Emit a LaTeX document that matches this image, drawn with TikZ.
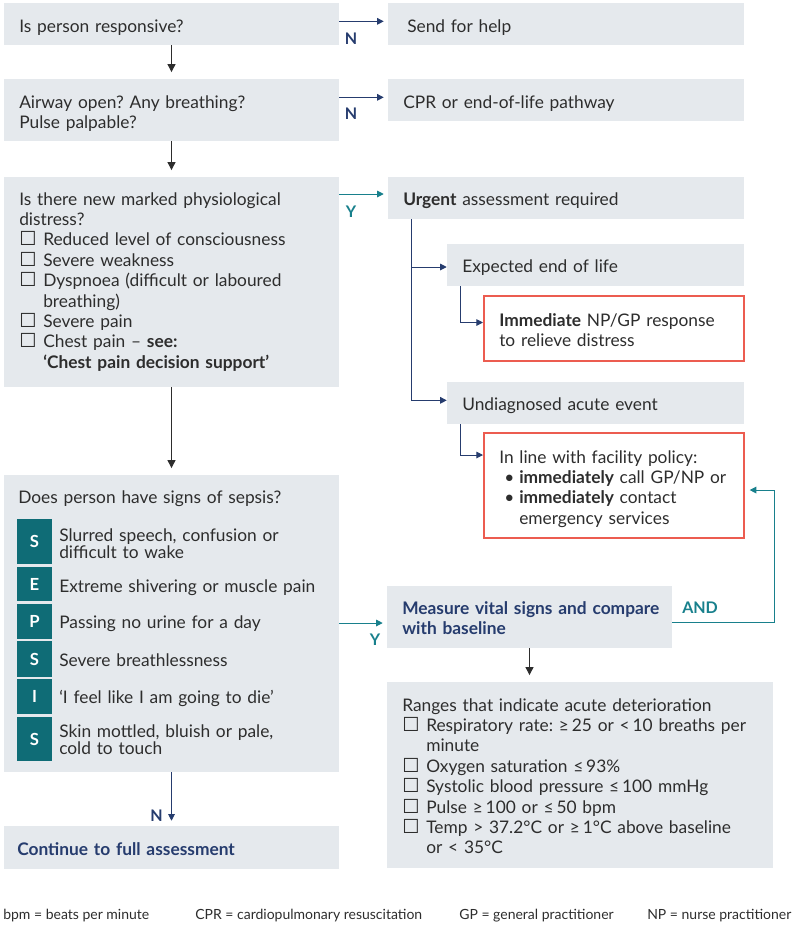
\documentclass[tikz,border=0pt]{standalone}
\usepackage{fontspec}
\setmainfont{Lato}
\newfontfamily\symbfont{DejaVu Sans}
\usetikzlibrary{arrows.meta,fit,positioning}
\frenchspacing

\definecolor{boxgrey}{RGB}{229,233,237}
\definecolor{ink}{RGB}{45,45,45}
\definecolor{navy}{RGB}{38,60,110}
\definecolor{tealline}{RGB}{24,128,140}
\definecolor{tealbox}{RGB}{15,108,118}
\definecolor{boxred}{RGB}{236,92,80}

% check box item and bullet item with hanging indent
\newcommand{\chk}[1]{\hangindent=18pt\hangafter=1\noindent\makebox[18pt][l]{\smash{\symbfont\fontsize{14.5}{14.5}\selectfont ☐}}#1\par}
\newcommand{\bul}[1]{\hangindent=15pt\hangafter=1\noindent\hspace*{3.75pt}\makebox[11.25pt][l]{\textbullet}#1\par}

\tikzset{
  greybox/.style={fill=boxgrey, inner sep=0pt},
  redbox/.style={draw=boxred, line width=1.5pt, fill=white, inner sep=0pt},
  letbox/.style={fill=tealbox, inner sep=0pt},
  letter/.style={inner sep=0pt, text=white, font=\bfseries\fontsize{12.5}{14}\selectfont},
  txt/.style={anchor=base west, inner sep=0pt, text width=330pt, align=left, text=ink,
    font=\fontsize{13}{15.3}\selectfont},
  sepsistxt/.style={txt, font=\fontsize{13}{13.3}\selectfont},
  foot/.style={anchor=base west, inner sep=0pt, text=ink, font=\fontsize{10.5}{12}\selectfont},
  lbl/.style={inner sep=0pt, font=\bfseries\fontsize{12}{14}\selectfont},
  downarr/.style={-{Triangle[length=6pt,width=6pt]}, line width=0.8pt, ink},
  navyarr/.style={-{Triangle[length=5pt,width=5pt]}, line width=0.75pt, navy},
  tealarr/.style={-{Triangle[length=5pt,width=5pt]}, line width=0.75pt, tealline}
}

\begin{document}
\begin{tikzpicture}[x=0.75pt,y=-0.75pt]
\useasboundingbox (0,0) rectangle (800,929);

% left column
\node[greybox, fit={(4,3) (339,45)}] (resp) {};
\node[txt] (resptxt) at (19,32) {Is person responsive?};
\node[greybox, fit={(4,79) (339,141)}] (airway) {};
\node[txt] (airwaytxt) at (19,108) {Airway open? Any breathing?\\Pulse palpable?};
\node[greybox, fit={(4,177) (339,387)}] (distress) {};
\node[txt] (distresstxt) at (19,205) {Is there new marked physiological\\distress?\par
  \chk{Reduced level of consciousness}
  \chk{Severe weakness}
  \chk{Dyspnoea (difficult or laboured\newline breathing)}
  \chk{Severe pain}
  \chk{Chest pain -- \textbf{see:}\newline\textbf{‘Chest pain decision support’}}};
\node[greybox, fit={(4,475) (339,772)}] (sepsis) {};
\node[txt] (sepsistitle) at (18,503) {Does person have signs of sepsis?};
\node[greybox, fit={(4,826) (339,869)}] (cont) {};
\node[txt, text=navy, font=\bfseries\fontsize{13}{15.3}\selectfont] (conttxt) at (17,855) {Continue to full assessment};

% sepsis letters
\node[letbox, fit={(17,519) (52,564)}] (s1) {};
\node[letbox, fit={(17,567) (52,601)}] (e1) {};
\node[letbox, fit={(17,604) (52,639)}] (p1) {};
\node[letbox, fit={(17,641) (52,677)}] (s2) {};
\node[letbox, fit={(17,679) (52,714)}] (i1) {};
\node[letbox, fit={(17,717) (52,761)}] (s3) {};
\node[letter] (s1l) at (s1) {S};
\node[letter] (e1l) at (e1) {E};
\node[letter] (p1l) at (p1) {P};
\node[letter] (s2l) at (s2) {S};
\node[letter] (i1l) at (i1) {I};
\node[letter] (s3l) at (s3) {S};
\node[sepsistxt] (s1txt) at (59,541) {Slurred speech, confusion or\\difficult to wake};
\node[sepsistxt] (e1txt) at (59,592) {Extreme shivering or muscle pain};
\node[sepsistxt] (p1txt) at (59,628) {Passing no urine for a day};
\node[sepsistxt] (s2txt) at (59,666) {Severe breathlessness};
\node[sepsistxt] (i1txt) at (59,703) {‘I feel like I am going to die’};
\node[sepsistxt] (s3txt) at (59,737) {Skin mottled, bluish or pale,\\cold to touch};

% right column
\node[greybox, fit={(388,3) (744,45)}] (help) {};
\node[txt] (helptxt) at (407,32) {Send for help};
\node[greybox, fit={(388,79) (744,121)}] (cpr) {};
\node[txt] (cprtxt) at (403,108) {CPR or end-of-life pathway};
\node[greybox, fit={(388,177) (744,219)}] (urgent) {};
\node[txt] (urgenttxt) at (403,205) {\textbf{Urgent} assessment required};
\node[greybox, fit={(447,244) (744,286)}] (expected) {};
\node[txt] (expectedtxt) at (462,272) {Expected end of life};
\node[redbox, fit={(484,296) (744,361)}] (immed) {};
\node[txt] (immedtxt) at (499,326) {\textbf{Immediate} NP/GP response\\to relieve distress};
\node[greybox, fit={(447,382) (744,424)}] (undiag) {};
\node[txt] (undiagtxt) at (462,410) {Undiagnosed acute event};
\node[redbox, fit={(484,433) (744,538)}] (policy) {};
\node[txt] (policytxt) at (499,463) {In line with facility policy:\par
  \bul{\textbf{immediately} call GP/NP or}
  \bul{\textbf{immediately} contact\newline emergency services}};
\node[greybox, fit={(387,586) (672,648)}] (measure) {};
\node[txt, text=navy, font=\bfseries\fontsize{13}{15}\selectfont] (measuretxt) at (402,614) {Measure vital signs and compare\\with baseline};
\node[greybox, fit={(387,682) (773,868)}] (ranges) {};
\node[txt] (rangestxt) at (402,711) {Ranges that indicate acute deterioration\par
  \chk{Respiratory rate: ≥\,25 or <\,10 breaths per\newline minute}
  \chk{Oxygen saturation ≤\,93\%}
  \chk{Systolic blood pressure ≤\,100 mmHg}
  \chk{Pulse ≥\,100 or ≤\,50 bpm}
  \chk{Temp > 37.2°C or ≥\,1°C above baseline\newline or < 35°C}};

% arrows
\draw[downarr, shorten >=5pt] (resp.south) -- (airway.north);
\draw[downarr, shorten >=5pt] (airway.south) -- (distress.north);
\draw[downarr, shorten >=5pt] (distress.south) -- (sepsis.north);
\draw[downarr, shorten >=5pt] (measure.south) -- (measure.south |- ranges.north);
\draw[navyarr, shorten >=3.75pt] (sepsis.south) -- (cont.north);
\draw[navyarr, shorten >=3pt] ([yshift=2pt]help.west -| resp.east) -- ([yshift=2pt]help.west);
\draw[navyarr, shorten >=3pt] ([yshift=2pt]cpr.west -| airway.east) -- ([yshift=2pt]cpr.west);
\draw[tealarr, shorten >=3pt] ([yshift=3pt]urgent.west -| distress.east) -- ([yshift=3pt]urgent.west);
\draw[tealarr, shorten >=3pt] ([yshift=-4.5pt]measure.west -| sepsis.east) -- ([yshift=-4.5pt]measure.west);
\draw[navyarr] ([xshift=18pt]urgent.south west) |- ([yshift=-1.5pt]expected.west);
\draw[navyarr] ([xshift=18pt]urgent.south west) |- ([yshift=2pt]undiag.west);
\draw[navyarr] ([xshift=10.5pt]expected.south west) |- ([yshift=4.5pt]immed.west);
\draw[navyarr] ([xshift=10.5pt]undiag.south west) |- ([yshift=-17.25pt]policy.north west);
\draw[tealarr, shorten >=3.5pt] ([yshift=-3.75pt]measure.east) -- ++(102,0) |- ([yshift=-3.4pt]policy.east);

% branch labels
\node[lbl, navy] (n1) at (351,39) {N};
\node[lbl, navy] (n2) at (351,114) {N};
\node[lbl, tealline] (y1) at (351,212) {Y};
\node[lbl, tealline] (y2) at (375,640) {Y};
\node[lbl, navy, anchor=base east] (n3) at (163,821) {N};
\node[lbl, tealline, anchor=base west] (andlbl) at (682,613) {AND};

% footer
\node[foot] (f1) at (3,919) {bpm = beats per minute};
\node[foot] (f2) at (195,919) {CPR = cardiopulmonary resuscitation};
\node[foot] (f3) at (459,919) {GP = general practitioner};
\node[foot] (f4) at (647,919) {NP = nurse practitioner};
\end{tikzpicture}
\end{document}
